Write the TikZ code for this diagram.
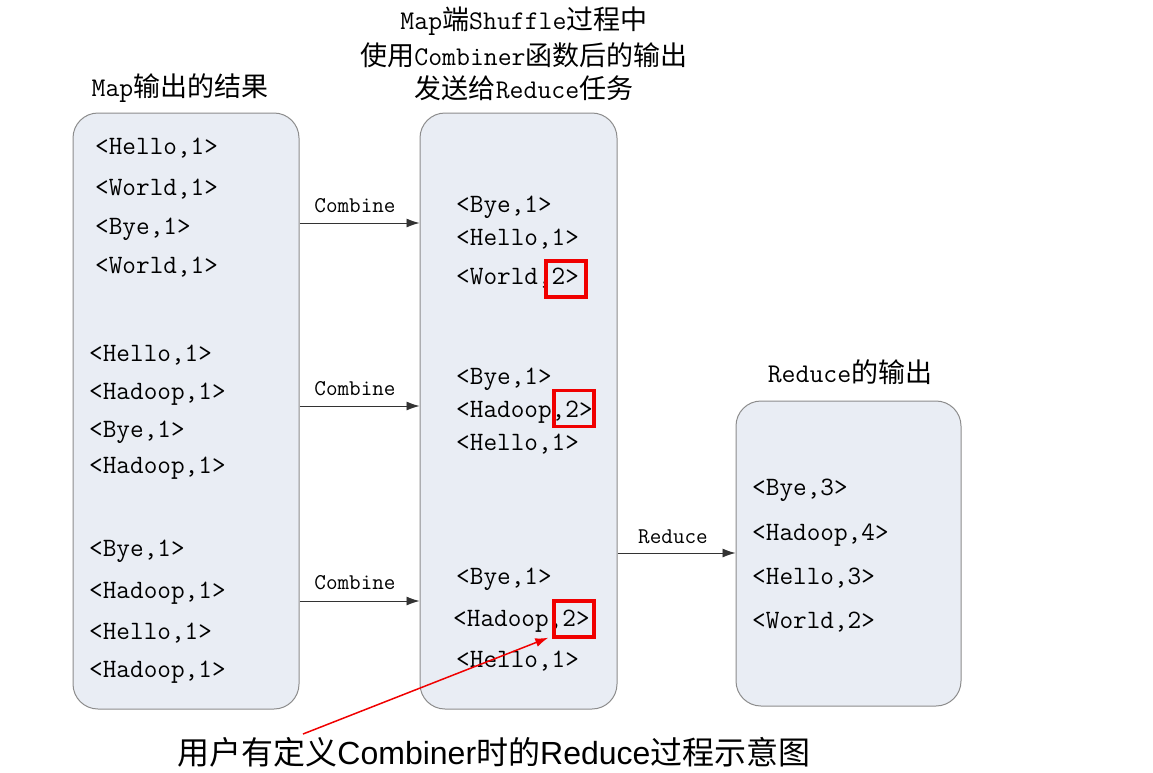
\documentclass[tikz,border=0pt]{standalone}
\usepackage{fontspec}
\newfontfamily\cjk{Noto Sans CJK SC}
\newfontfamily\lmm{Latin Modern Mono}
\newfontfamily\capsans{Liberation Sans}
\usetikzlibrary{arrows.meta}
\definecolor{boxfill}{HTML}{E9EDF4}
\definecolor{boxline}{HTML}{8C8C8C}
\definecolor{redc}{HTML}{F00000}
\tikzset{
  panel/.style={draw=boxline, line width=1pt, fill=boxfill, rounded corners=25pt, inner sep=0pt},
  kv/.style={anchor=west, inner sep=0pt, font=\lmm\fontsize{26.5}{30}\selectfont, text height=18pt, text depth=5pt},
  ttl/.style={inner sep=0pt, font=\lmm\fontsize{27}{34}\selectfont, align=center},
  lbl/.style={inner sep=0pt, font=\lmm\fontsize{22.5}{26}\selectfont},
  arr/.style={draw=black!80, line width=0.9pt, -{Latex[length=13pt,width=9pt]}},
  redbox/.style={draw=redc, line width=3.4pt, minimum width=40pt, minimum height=36pt, inner sep=0pt},
  redarr/.style={draw=redc, line width=1.5pt, -{Latex[length=13pt,width=9pt]}}
}
\begin{document}
\begin{tikzpicture}[x=1pt,y=-1pt]
\useasboundingbox (0,0) rectangle (1153,772);
% panels
\node[panel, minimum width=226pt, minimum height=596pt] (p1) at (186,411) {};
\node[panel, minimum width=197pt, minimum height=596pt] (p2) at (518.5,411) {};
\node[panel, minimum width=225pt, minimum height=305pt] (p3) at (848.5,553.5) {};
% titles
\node[ttl] (t1) at (180,88) {Map{\cjk 输出的结果}};
\node[ttl] (t2a) at (524,21) {Map{\cjk 端}Shuffle{\cjk 过程中}};
\node[ttl] (t2b) at (524,55) {{\cjk 使用}Combiner{\cjk 函数后的输出}};
\node[ttl] (t2c) at (524,88) {{\cjk 发送给}Reduce{\cjk 任务}};
\node[ttl] (t3) at (850,372) {Reduce{\cjk 的输出}};
% panel 1 texts
\node[kv] (a1) at (95,148) {<Hello,1>};
\node[kv] (a2) at (95,189) {<World,1>};
\node[kv] (a3) at (95,228) {<Bye,1>};
\node[kv] (a4) at (95,267) {<World,1>};
\node[kv] (b1) at (89,355) {<Hello,1>};
\node[kv] (b2) at (89,393) {<Hadoop,1>};
\node[kv] (b3) at (89,431) {<Bye,1>};
\node[kv] (b4) at (89,467) {<Hadoop,1>};
\node[kv] (c1) at (89,550) {<Bye,1>};
\node[kv] (c2) at (89,592) {<Hadoop,1>};
\node[kv] (c3) at (89,633) {<Hello,1>};
\node[kv] (c4) at (89,671) {<Hadoop,1>};
% panel 2 texts
\node[kv] (d1) at (456,206) {<Bye,1>};
\node[kv] (d2) at (456,239) {<Hello,1>};
\node[kv] (d3) at (456,278) {<World,2>};
\node[kv] (e1) at (456,378) {<Bye,1>};
\node[kv] (e2) at (456,411) {<Hadoop,2>};
\node[kv] (e3) at (456,444) {<Hello,1>};
\node[kv] (f1) at (456,578) {<Bye,1>};
\node[kv] (f2) at (453,620) {<Hadoop,2>};
\node[kv] (f3) at (456,661) {<Hello,1>};
% panel 3 texts
\node[kv] (g1) at (752,489) {<Bye,3>};
\node[kv] (g2) at (752,534) {<Hadoop,4>};
\node[kv] (g3) at (752,578) {<Hello,3>};
\node[kv] (g4) at (752,622) {<World,2>};
% red boxes
\node[redbox] (r1) at (566,279) {};
\node[redbox] (r2) at (574,408.5) {};
\node[redbox] (r3) at (574,619) {};
% arrows
\coordinate (y1) at (0,223);
\coordinate (y2) at (0,406);
\coordinate (y3) at (0,601);
\coordinate (y4) at (0,553);
\draw[arr] (p1.east |- y1) -- (p2.west |- y1);
\draw[arr] (p1.east |- y2) -- (p2.west |- y2);
\draw[arr] (p1.east |- y3) -- (p2.west |- y3);
\draw[arr] (p2.east |- y4) -- (p3.west |- y4);
\node[lbl] (l1) at (355,206) {Combine};
\node[lbl] (l2) at (355,389) {Combine};
\node[lbl] (l3) at (355,583) {Combine};
\node[lbl] (l4) at (673,537) {Reduce};
% caption and red pointer
\node[inner sep=0pt, font=\capsans\fontsize{32}{36}\selectfont] (cap) at (494,752) {{\cjk 用户有定义}Combiner{\cjk 时的}Reduce{\cjk 过程示意图}};
\coordinate (ps) at (303,734);
\draw[redarr] (ps) -- ([xshift=-4pt,yshift=1pt]r3.south west);
\end{tikzpicture}
\end{document}
